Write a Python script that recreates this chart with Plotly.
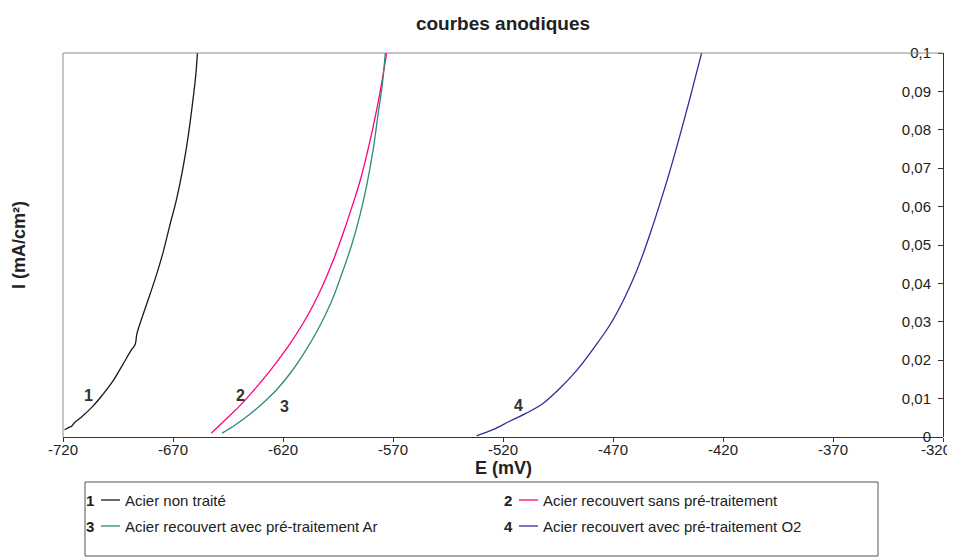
import plotly.graph_objects as go

# ---------------- data ----------------
E1 = [-719.3, -717.3, -716.1, -715.0, -711.2, -706.6, -702.0, -697.5, -692.9, -689.0, -687.2, -686.4,
      -683.7, -680.6, -677.6, -674.5, -671.5, -668.4, -665.3, -663.1, -661.1, -659.7, -658.9]
I1 = [0.0019, 0.0025, 0.0028, 0.0036, 0.0054, 0.0079, 0.0110, 0.0144, 0.0188, 0.0226, 0.0241, 0.0269,
      0.0317, 0.0369, 0.0421, 0.0481, 0.0550, 0.0619, 0.0706, 0.0783, 0.0870, 0.0939, 0.1000]

E2 = [-652.6, -646.2, -640.0, -633.8, -627.5, -621.6, -616.7, -611.0, -606.3, -601.6, -596.9, -592.5,
      -588.0, -585.2, -582.1, -579.0, -576.8, -574.9, -572.9]
I2 = [0.0010, 0.0045, 0.0079, 0.0118, 0.0161, 0.0205, 0.0244, 0.0295, 0.0343, 0.0399, 0.0464, 0.0533,
      0.0611, 0.0662, 0.0731, 0.0809, 0.0870, 0.0930, 0.1000]

E3 = [-647.7, -641.6, -635.4, -629.2, -622.9, -616.7, -610.5, -604.3, -598.1, -593.5, -588.9, -585.1,
      -582.0, -579.0, -576.7, -574.8, -573.5]
I3 = [0.0010, 0.0032, 0.0058, 0.0088, 0.0123, 0.0166, 0.0218, 0.0278, 0.0351, 0.0421, 0.0498, 0.0576,
      0.0654, 0.0749, 0.0844, 0.0921, 0.1000]

E4 = [-532.0, -524.6, -517.0, -509.4, -501.7, -494.1, -486.4, -478.8, -471.5, -465.7, -460.1, -456.3,
      -452.9, -448.5, -444.4, -439.7, -434.8, -431.7, -429.7]
I4 = [0.0003, 0.0019, 0.0041, 0.0062, 0.0088, 0.0127, 0.0174, 0.0231, 0.0291, 0.0351, 0.0421, 0.0477,
      0.0533, 0.0611, 0.0688, 0.0783, 0.0887, 0.0956, 0.1000]

series_numbers = ["1", "2", "3", "4"]
series_names = ["Acier non traité",
                "Acier recouvert sans pré-traitement",
                "Acier recouvert avec pré-traitement Ar",
                "Acier recouvert avec pré-traitement O2"]
series_colors = ["#1a1a1a", "#FF0080", "#2F8A7C", "#2E2E9A"]
series_E = [E1, E2, E3, E4]
series_I = [I1, I2, I3, I4]

# curve number labels (data coords)
label_E = [-708.5, -639.3, -619.1, -513.0]
label_I = [0.0109, 0.0109, 0.0080, 0.0081]

x_ticks = [-720, -670, -620, -570, -520, -470, -420, -370, -320]
x_ticktext = ["-720", "-670", "-620", "-570", "-520", "-470", "-420", "-370", "-320"]
y_ticks = [0, 0.01, 0.02, 0.03, 0.04, 0.05, 0.06, 0.07, 0.08, 0.09, 0.1]
y_ticktext = ["0", "0,01", "0,02", "0,03", "0,04", "0,05", "0,06", "0,07", "0,08", "0,09", "0,1"]

FONT = "Liberation Sans, Arial, sans-serif"
TXT = "#222222"

# plot-area geometry in pixels
L, R, T, B = 55, 20, 45, 130
W, H = 955, 559
PW, PH = W - L - R, H - T - B
AX_Y = H - B  # pixel row of x axis


def px2x(px):
    return (px - L) / PW


def py2y(py):
    return (AX_Y - py) / PH


fig = go.Figure()
for E, I, c, n in zip(series_E, series_I, series_colors, series_names):
    fig.add_trace(go.Scatter(x=E, y=I, mode="lines", name=n,
                             line=dict(color=c, width=1.3, shape="spline", smoothing=1.0),
                             showlegend=False, hoverinfo="skip"))

annotations = []
for num, e, i in zip(series_numbers, label_E, label_I):
    annotations.append(dict(x=e, y=i, xref="x", yref="y", text="<b>%s</b>" % num,
                            showarrow=False, font=dict(family=FONT, size=16, color="#333333")))

# x tick labels (hyphen-minus like the original); the last one is kept inside the page
for idx, (v, t) in enumerate(zip(x_ticks, x_ticktext)):
    last = idx == len(x_ticks) - 1
    annotations.append(dict(x=v, y=0, xref="x", yref="paper", text=t, showarrow=False,
                            xanchor="right" if last else "center", yanchor="middle",
                            yshift=-12, xshift=10 if last else 0,
                            font=dict(family=FONT, size=15, color=TXT)))

# axis titles
annotations.append(dict(x=0.5, y=py2y(460), xref="paper", yref="paper", text="<b>E (mV)</b>",
                        showarrow=False, font=dict(family=FONT, size=18, color=TXT),
                        xanchor="center", yanchor="middle"))
annotations.append(dict(x=px2x(11), y=0.5, xref="paper", yref="paper", text="<b>I (mA/cm²)</b>",
                        showarrow=False, textangle=-90, font=dict(family=FONT, size=18, color=TXT),
                        xanchor="center", yanchor="middle"))

# manual legend (2 columns x 2 rows)
shapes = []
shapes.append(dict(type="rect", xref="paper", yref="paper",
                   x0=px2x(77), x1=px2x(870), y0=py2y(548), y1=py2y(474),
                   line=dict(color="#555555", width=1), fillcolor="rgba(0,0,0,0)"))
col_x = [82, 500]
row_y = [492, 518]
for k in range(4):
    cx = col_x[k % 2]
    ry = row_y[k // 2]
    annotations.append(dict(x=px2x(cx), y=py2y(ry), xref="paper", yref="paper",
                            text="<b>%s</b>" % series_numbers[k], showarrow=False,
                            xanchor="center", yanchor="middle",
                            font=dict(family=FONT, size=15, color=TXT)))
    shapes.append(dict(type="line", xref="paper", yref="paper",
                       x0=px2x(cx + 11), x1=px2x(cx + 30), y0=py2y(ry), y1=py2y(ry),
                       line=dict(color=series_colors[k], width=1.3)))
    annotations.append(dict(x=px2x(cx + 33), y=py2y(ry), xref="paper", yref="paper",
                            text=series_names[k], showarrow=False,
                            xanchor="left", yanchor="middle",
                            font=dict(family=FONT, size=15, color=TXT)))

# gray frame on left and top
shapes.append(dict(type="line", xref="paper", yref="paper", x0=0, x1=0, y0=0, y1=1,
                   line=dict(color="#8c8c8c", width=1)))
shapes.append(dict(type="line", xref="paper", yref="paper", x0=0, x1=1, y0=1, y1=1,
                   line=dict(color="#8c8c8c", width=1)))

fig.update_layout(
    width=W, height=H,
    margin=dict(l=L, r=R, t=T, b=B),
    paper_bgcolor="white", plot_bgcolor="white",
    font=dict(family=FONT, size=15, color=TXT),
    title=dict(text="<b>courbes anodiques</b>", x=0.5, xref="paper", y=1 - 15 / H,
               yref="container", xanchor="center", yanchor="middle",
               font=dict(family=FONT, size=19, color=TXT)),
    xaxis=dict(range=[-720, -320], tickvals=x_ticks, showticklabels=False,
               ticks="outside", ticklen=4,
               tickcolor="#333333", showline=True, linecolor="#333333", linewidth=1,
               showgrid=False, zeroline=False, automargin=False),
    yaxis=dict(range=[0, 0.1], anchor="free", position=1, side="left",
               tickvals=y_ticks, ticktext=y_ticktext,
               ticks="outside", ticklen=5, tickcolor="#333333", ticklabelstandoff=4,
               showline=True, linecolor="#333333", linewidth=1,
               showgrid=False, zeroline=False, automargin=False,
               tickfont=dict(family=FONT, size=15, color=TXT)),
    annotations=annotations, shapes=shapes,
)

fig.write_html("out.html")
